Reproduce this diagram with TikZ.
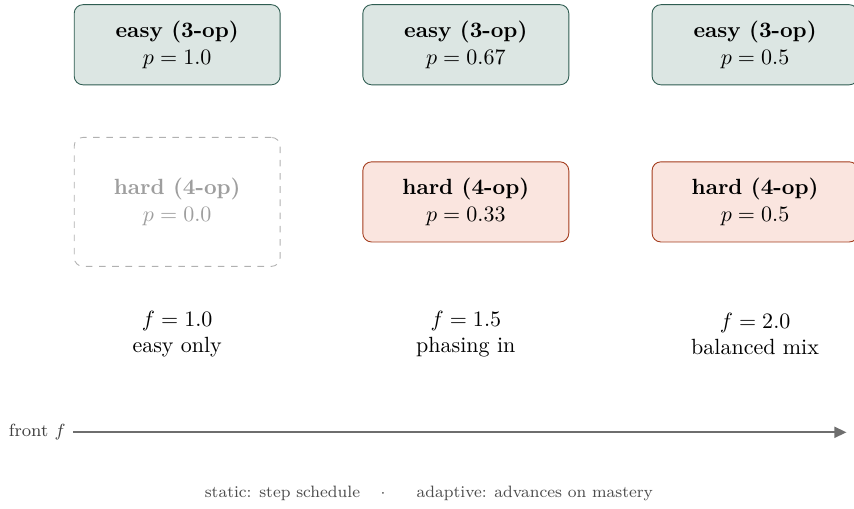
\documentclass[tikz,border=0pt]{standalone}
\usepackage{amsmath}
\usepackage{xcolor}
\usepackage{tikz}
\usetikzlibrary{arrows.meta,positioning}
\definecolor{easyfill}{HTML}{DCE6E3}
\definecolor{easyline}{HTML}{2F5D52}
\definecolor{hardfill}{HTML}{FAE5DF}
\definecolor{hardline}{HTML}{A33B1C}
\definecolor{ghost}{HTML}{9E9E9E}
\definecolor{axisgray}{HTML}{6E6E6E}
\tikzset{
  poolbox/.style={rounded corners=4pt, align=center, minimum width=3.29cm, minimum height=1.28cm},
  easybox/.style={poolbox, draw=easyline, fill=easyfill},
  hardbox/.style={poolbox, draw=hardline, fill=hardfill},
  ghostbox/.style={poolbox, draw=ghost!80, dashed, text=ghost, minimum height=2.06cm},
  frontlabel/.style={align=center},
}

\begin{document}
\begin{tikzpicture}
            \useasboundingbox (0,0) rectangle (13.64,8.115);
            % easy pool
            \node[easybox] (easyA) at (2.83,7.40) {\textbf{easy (3-op)}\\$p=1.0$};
            \node[easybox] (easyB) at (7.44,7.40) {\textbf{easy (3-op)}\\$p=0.67$};
            \node[easybox] (easyC) at (12.06,7.40) {\textbf{easy (3-op)}\\$p=0.5$};
            % hard pool
            \node[ghostbox] (hardA) at (2.83,4.89) {\textbf{hard (4-op)}\\$p=0.0$};
            \node[hardbox] (hardB) at (7.44,4.89) {\textbf{hard (4-op)}\\$p=0.33$};
            \node[hardbox] (hardC) at (12.06,4.89) {\textbf{hard (4-op)}\\$p=0.5$};
            % stages
            \node[frontlabel] (stageA) at (2.83,2.78) {$f=1.0$\\easy only};
            \node[frontlabel] (stageB) at (7.44,2.78) {$f=1.5$\\phasing in};
            \node[frontlabel] (stageC) at (12.06,2.78) {$f=2.0$\\balanced mix};
            % front axis
            \node[anchor=east, text=black!75, font=\footnotesize] (front) at (1.17,1.21) {front $f$};
            \coordinate (axisend) at (13.52,1.21);
            \draw[axisgray, line width=0.8pt, -{Triangle[length=5.5pt,width=5pt]}] (front.east) -- (axisend);
            \node[text=black!70, font=\footnotesize, scale=0.935, transform shape] (legend) at (6.85,0.24) {static: step schedule\hspace{1.25em}$\cdot$\hspace{1.9em}adaptive: advances on mastery};
        \end{tikzpicture}
\end{document}
